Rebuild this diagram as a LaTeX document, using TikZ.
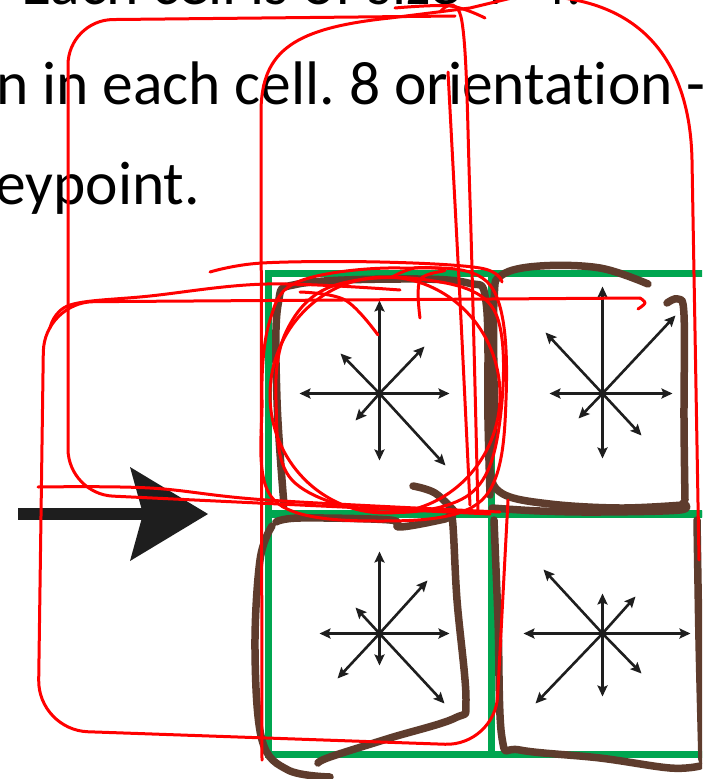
\documentclass[tikz,border=0pt]{standalone}
\usepackage{fontspec}
\setmainfont{Carlito}[Ligatures={NoCommon,NoContextual}, RawFeature={-liga;-clig}]
\usepackage{xcolor}
\usetikzlibrary{arrows.meta}
\frenchspacing

\definecolor{gridgreen}{RGB}{0,166,80}
\definecolor{penbrown}{RGB}{94,60,45}
\definecolor{penred}{RGB}{255,0,0}
\definecolor{ink}{RGB}{30,30,30}

\begin{document}
\begin{tikzpicture}[x=1pt, y=-1pt,
  slide/.style={anchor=base west, inner sep=0pt, font=\fontsize{61.5}{72}\selectfont, text=black},
  gridcell/.style={draw=gridgreen, line width=7pt, minimum width=223pt, minimum height=241pt, inner sep=0pt},
  vec/.style={draw=ink, line width=2.6pt, -{Stealth[length=11pt, width=10pt, inset=2pt]}},
  bigarr/.style={draw=ink, line width=12pt, -{Stealth[length=78pt, width=94pt, inset=13pt, line width=0pt]}},
  brownpen/.style={draw=penbrown, line width=7.5pt, line cap=round, line join=round},
  redpen/.style={draw=penred, line width=3pt, line cap=round, line join=round}
]
\useasboundingbox (0,0) rectangle (702,779);
\clip (0,0) rectangle (702,779);
\fill[white] (0,0) rectangle (702,779);

% --- slide text (cut off by the screenshot)
\node[slide] (line1) at (-14,5) {r Each cell is of size 4×4.};
\node[slide] (line2) at (-4,104) {n in each cell. 8 orientation -};
\node[slide] (line3) at (-5,204) {eypoint.};

% --- 2x2 grid of cells
\node[gridcell] (c11) at (379.5,393.5) {};
\node[gridcell] (c12) at (602.5,393.5) {};
\node[gridcell] (c21) at (379.5,633.5) {};
\node[gridcell] (c22) at (602.5,633.5) {};

% --- orientation histograms
\foreach \c/\vlist in {
    c11/{0/-93,0/67,-80/0,70/0,45/-47,-39/-40,-24/27,66/72},
    c12/{0/-107,0/65,-53/0,70/0,73/-78,-57/-61,-24/25,39/42},
    c21/{0/-82,0/32,-60/0,70/0,48/-53,-24/-26,-42/45,65/70},
    c22/{0/-40,0/63,-79/0,88/0,33/-37,-59/-64,-67/70,39/40}} {
  \foreach \dx/\dy in \vlist
    \draw[vec] (\c.center) -- ++(\dx,\dy);
  \fill[ink] (\c.center) circle (3.5pt);
}

% --- big arrow
\coordinate (tail) at (18,514);
\coordinate (tip) at (208,514);
\draw[bigarr] (tail) -- (tip);

% --- brown pen strokes
\draw[brownpen] plot[smooth, tension=0.6] coordinates {(284,505) (277,400) (278,305) (298,284) (400,279) (468,283) (486,302) (488,420) (490,495)};
\draw[brownpen] plot[smooth, tension=0.6] coordinates {(413,486) (435,493) (455,512)};
\draw[brownpen] plot[smooth, tension=0.6] coordinates {(648,284) (600,268) (540,266) (502,275) (494,300) (494,420) (490,470) (503,494) (550,504) (620,508) (683,505)};
\draw[brownpen] plot[smooth, tension=0.6] coordinates {(667,303) (678,299) (684,315) (684,420) (685,500)};
\draw[brownpen] plot[smooth, tension=0.6] coordinates {(276,522) (300,518) (390,520) (400,527) (445,519) (452,516) (457,600) (466,700) (455,718) (390,738) (330,757) (318,763)};
\draw[brownpen] plot[smooth, tension=0.6] coordinates {(272,526) (260,560) (255,650) (262,740) (288,770) (330,777)};
\draw[brownpen] plot[smooth, tension=0.6] coordinates {(683,503) (680,510) (600,512) (540,511) (492,508)};
\draw[brownpen] plot[smooth, tension=0.6] coordinates {(494,520) (498,620) (502,738) (520,750) (600,758) (670,768) (700,766)};
\draw[brownpen] plot[smooth, tension=0.6] coordinates {(697,520) (699,640) (702,760)};

% --- red pen strokes
\draw[redpen, rounded corners=45pt] (455,16) -- (68,20) -- (68,494) -- (490,514);
\draw[redpen] plot[smooth, tension=0.6] coordinates {(440,12) (462,22) (470,200) (478,512)};
\draw[redpen] plot[smooth, tension=0.6] coordinates {(448,72) (460,300) (470,505)};
\draw[redpen] plot[smooth, tension=0.6] coordinates {(395,8) (450,6) (485,18)};
\draw[redpen] (262,760) -- (261,110) .. controls (262,50) and (295,28) .. (390,18) -- (470,8) -- (520,-4) .. controls (640,-8) and (690,60) .. (692,160) -- (699,560);
\draw[redpen, rounded corners=50pt] (640,298) -- (44,302) -- (38,730) -- (495,746) -- (508,500);
\draw[redpen] plot[smooth, tension=0.6] coordinates {(50,328) (70,305) (150,296) (267,284) (400,290)};
\draw[redpen] plot[smooth, tension=0.6] coordinates {(640,298) (645,303) (638,309)};
\draw[redpen] plot[smooth, tension=0.6] coordinates {(38,487) (150,488) (267,500) (500,512)};
\draw[redpen] (385,395) ellipse [x radius=115, y radius=118];
\draw[redpen] plot[smooth cycle, tension=0.6] coordinates {(270,320) (300,281) (400,268) (490,285) (506,400) (482,500) (380,521) (274,500) (262,400)};
\draw[redpen] plot[smooth cycle, tension=0.6] coordinates {(286,332) (330,287) (420,279) (494,310) (500,420) (470,494) (380,512) (292,480) (276,400)};
\draw[redpen] plot[smooth, tension=0.6] coordinates {(210,272) (262,263) (380,262) (480,268) (502,282)};
\draw[redpen] plot[smooth, tension=0.6] coordinates {(300,292) (345,300) (378,335)};
\draw[redpen] plot[smooth, tension=0.6] coordinates {(392,277) (415,268) (445,270) (420,280) (420,318)};
\end{tikzpicture}
\end{document}
